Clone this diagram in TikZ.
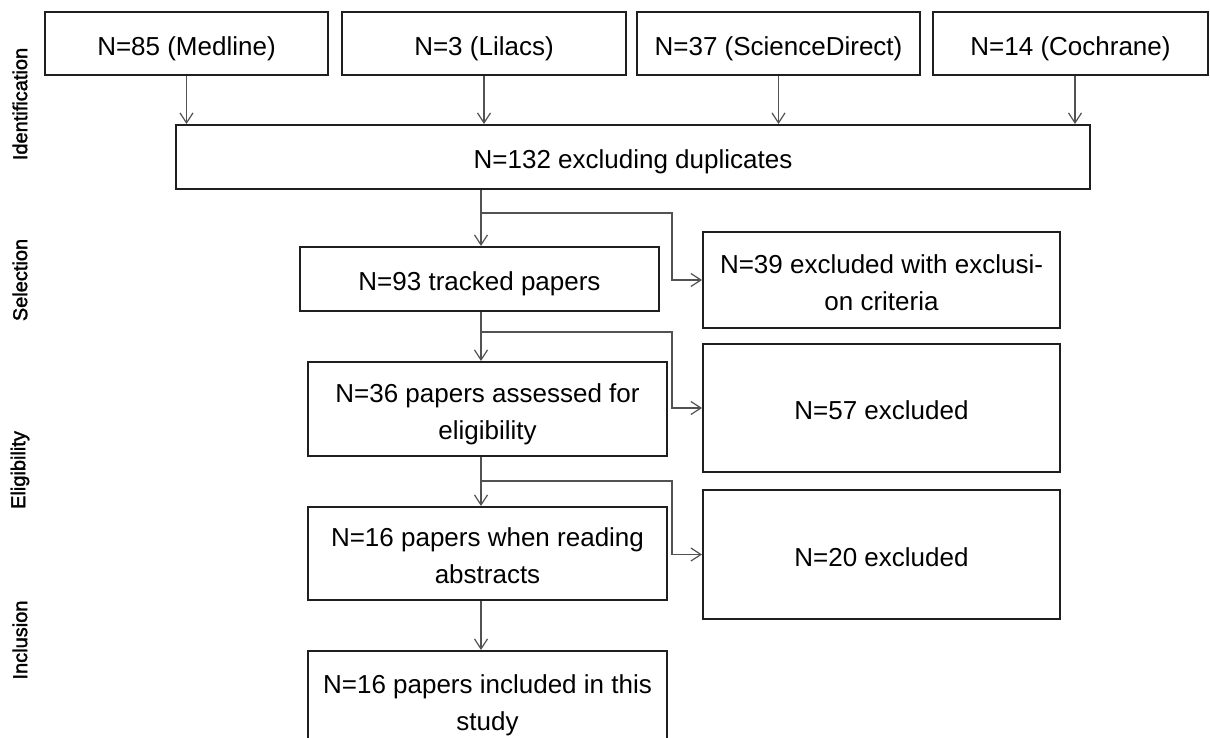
\documentclass[tikz,border=0pt]{standalone}
\usepackage{fontspec}
\setmainfont{Liberation Sans}
\newfontfamily\stagefont[FakeBold=1.6]{Liberation Sans}
\usetikzlibrary{arrows.meta}
\newcommand\bxt[1]{\raisebox{-4.5pt}[\height][\depth]{\begin{tabular}{@{}c@{}}#1\end{tabular}}}
\begin{document}
\begin{tikzpicture}[x=1pt,y=-1pt,
  box/.style={draw=black!88, line width=2pt, rectangle, inner sep=0pt, align=center,
    font=\fontsize{26}{37}\selectfont},
  conn/.style={draw=black!68, line width=1.2pt,
    -{Straight Barb[length=10pt,width=13pt,line width=1.2pt]}},
  stage/.style={rotate=90, font=\stagefont\fontsize{20}{24}\selectfont}]
\useasboundingbox (0,0) rectangle (1210,738);
\clip (0,0) rectangle (1210,738);
\fill[white] (0,0) rectangle (1210,738);

% stage labels
\node[stage] (lid) at (20,104) {Identification};
\node[stage] (lsel) at (20,280) {Selection};
\node[stage] (lel) at (20,470) {Eligibility};
\node[stage] (linc) at (20,640) {Inclusion};

% top sources
\node[box, minimum width=283pt, minimum height=63pt] (med) at (186.5,43.5) {\bxt{N=85 (Medline)}};
\node[box, minimum width=284pt, minimum height=63pt] (lil) at (484,43.5) {\bxt{N=3 (Lilacs)}};
\node[box, minimum width=283pt, minimum height=63pt] (sd) at (778.5,43.5) {\bxt{N=37 (ScienceDirect)}};
\node[box, minimum width=275pt, minimum height=63pt] (coch) at (1070.5,43.5) {\bxt{N=14 (Cochrane)}};

\node[box, minimum width=914pt, minimum height=64pt] (big) at (633,157) {\bxt{N=132 excluding duplicates}};

% main column
\node[box, minimum width=359pt, minimum height=64pt] (n93) at (479.5,279) {\bxt{N=93 tracked papers}};
\node[box, minimum width=359pt, minimum height=94pt] (n36) at (487.5,409) {\bxt{N=36 papers assessed for\\eligibility}};
\node[box, minimum width=359pt, minimum height=93pt] (n16a) at (487.5,553.5) {\bxt{N=16 papers when reading\\abstracts}};
\node[box, minimum width=359pt, minimum height=98pt] (n16i) at (487.5,700) {\bxt{N=16 papers included in this\\study}};

% exclusion column
\node[box, minimum width=357pt, minimum height=96pt] (n39) at (881.5,280) {\bxt{N=39 excluded with exclusi-\\on criteria}};
\node[box, minimum width=357pt, minimum height=128pt] (n57) at (881.5,408) {\bxt{N=57 excluded}};
\node[box, minimum width=357pt, minimum height=129pt] (n20) at (881.5,554.5) {\bxt{N=20 excluded}};

% arrows from sources
\draw[conn] (med.south) -- (med.south |- big.north);
\draw[conn] (lil.south) -- (lil.south |- big.north);
\draw[conn] (sd.south) -- (sd.south |- big.north);
\draw[conn] ([xshift=4.5pt]coch.south) -- ([xshift=4.5pt]coch.south |- big.north);

% spine
\coordinate (spx) at (481,0);
\coordinate (kx) at (672,0);
\draw[conn] (big.south -| spx) -- (n93.north -| spx);
\draw[conn] (n93.south -| spx) -- (n36.north -| spx);
\draw[conn] (n36.south -| spx) -- (n16a.north -| spx);
\draw[conn] (n16a.south -| spx) -- (n16i.north -| spx);

% branches
\coordinate (b1) at (481,213);
\coordinate (b2) at (481,332);
\coordinate (b3) at (481,481);
\draw[conn] (b1) -| (kx |- n39.west) -- (n39.west);
\draw[conn] (b2) -| (kx |- n57.west) -- (n57.west);
\draw[conn] (b3) -| (kx |- n20.west) -- (n20.west);
\end{tikzpicture}
\end{document}
